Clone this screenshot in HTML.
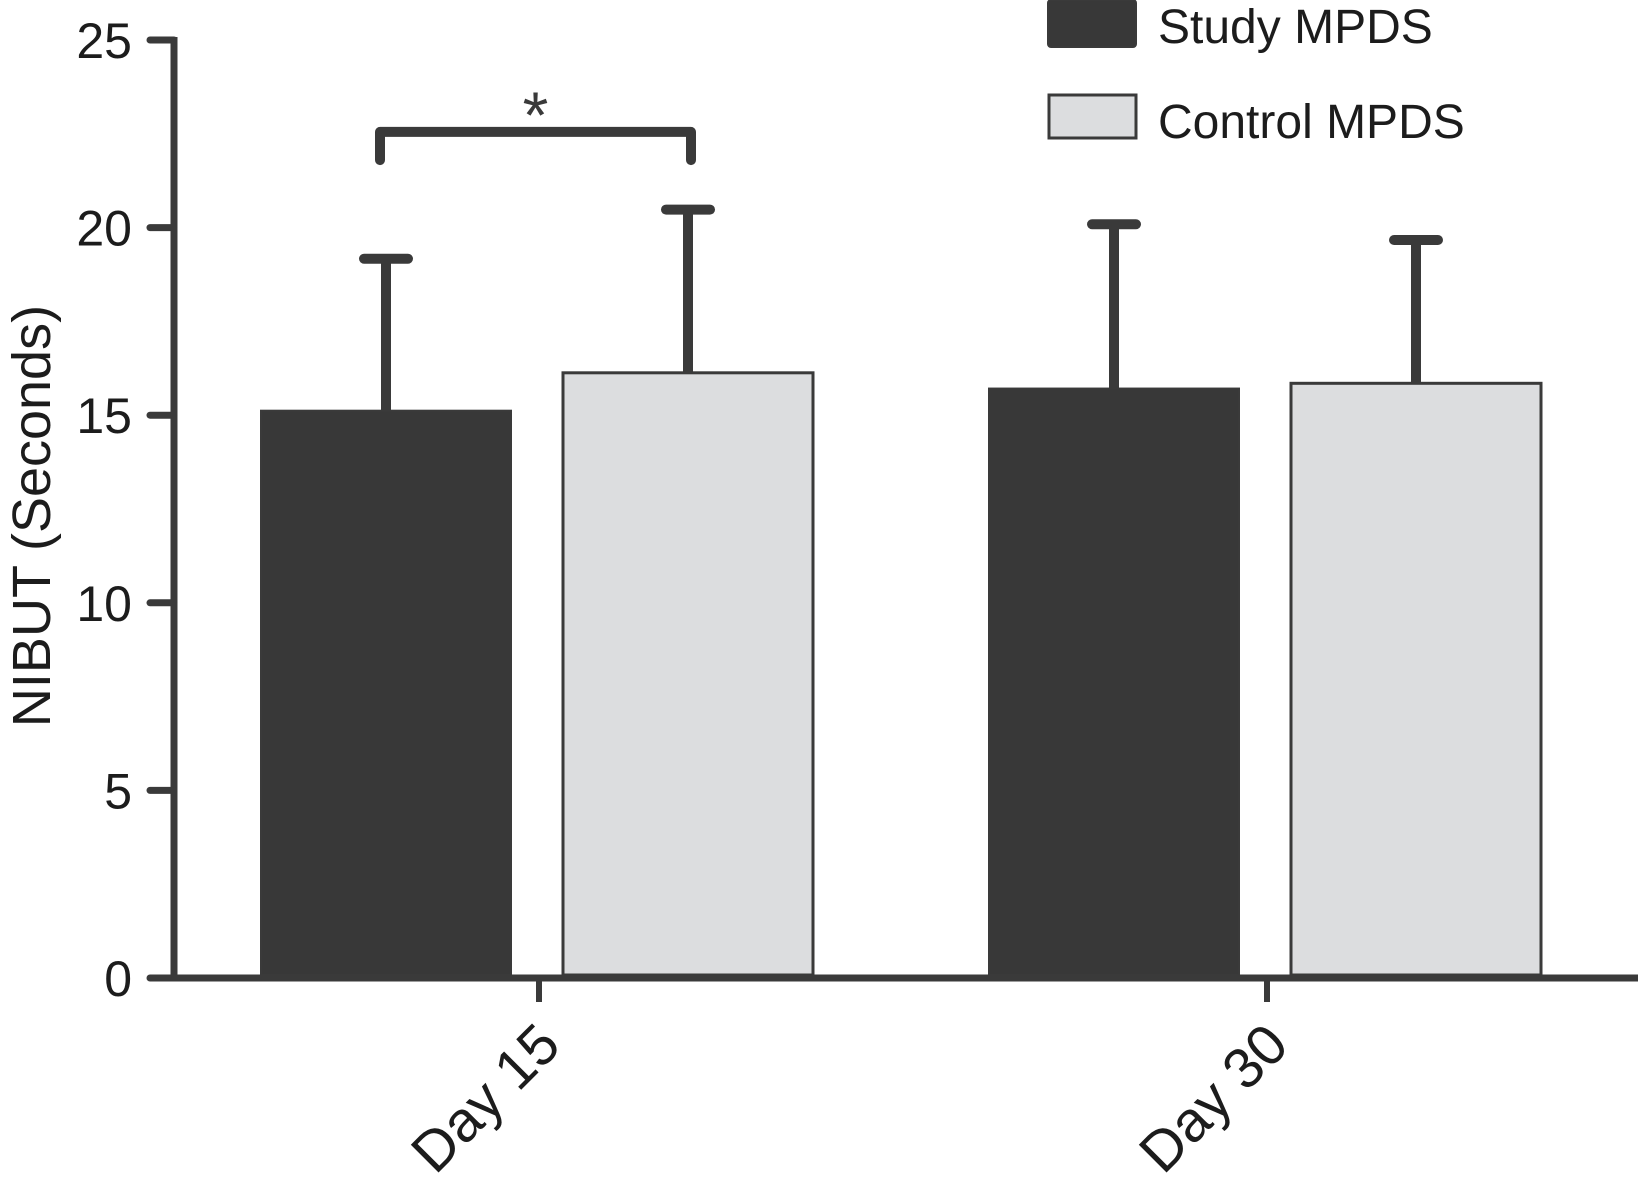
<!DOCTYPE html>
<html><head><meta charset="utf-8"><style>
html,body{margin:0;padding:0;background:#fff;}
svg{display:block;font-family:"Liberation Sans",Arial,sans-serif;}
</style></head><body>
<svg id="chart" width="1640" height="1190" viewBox="0 0 1640 1190" xmlns="http://www.w3.org/2000/svg">
<g id="axes"></g>
<g id="bars"></g>
<g id="legend">
  <rect x="1048" y="0" width="88" height="47" rx="3" fill="#383838" stroke="#3a3a3a" stroke-width="2"/>
  <text x="1158" y="43" font-size="48" fill="#1c1c1c">Study MPDS</text>
  <rect x="1049" y="95" width="87" height="43" fill="#dcdddf" stroke="#3a3a3a" stroke-width="3"/>
  <text x="1158" y="138" font-size="48" fill="#1c1c1c">Control MPDS</text>
</g>
<text transform="translate(50,516) rotate(-90)" text-anchor="middle" font-size="54" fill="#1c1c1c">NIBUT (Seconds)</text>
</svg>
<script>
const categories = ["Day 15", "Day 30"];
const studyMeans = [15.12, 15.71];
const studyErr = [19.17, 20.09];
const controlMeans = [16.13, 15.85];
const controlErr = [20.48, 19.67];
const yTicks = [0, 5, 10, 15, 20, 25];
const sigBracket = [22.55, 21.8];

const NS = "http://www.w3.org/2000/svg";
const Y0 = 978, Y25 = 40, YMAX = 25;
function y(v){ return Y0 - (Y0 - Y25) * v / YMAX; }
const catCenters = [539, 1267];
const barW = 250, gap = 52;
function barX(ci, si){ return catCenters[ci] - barW - gap/2 + si*(barW+gap) - 2; }
function el(tag, attrs, parent){ const e = document.createElementNS(NS, tag); for (const k in attrs) e.setAttribute(k, attrs[k]); parent.appendChild(e); return e; }

const axes = document.getElementById('axes');
const bars = document.getElementById('bars');
const dark = "#383838", light = "#dcdddf", stroke = "#3a3a3a";

let yl = el('line', {x1:174, y1:y(25)-3, x2:174, y2:Y0+3, stroke:stroke, 'stroke-width':7}, axes);


yTicks.forEach(t => {
  const tl = el('line', {x1:150, y1:y(t), x2:174, y2:y(t), stroke:stroke, 'stroke-width':7, 'stroke-linecap':'round'}, axes);
  
  
  const tx = el('text', {x:132, y:y(t)+18, 'text-anchor':'end', 'font-size':50, fill:'#1c1c1c'}, axes);
  tx.textContent = t;
  
  
});
let xl = el('line', {x1:150, y1:Y0, x2:1638, y2:Y0, stroke:stroke, 'stroke-width':7}, axes);


categories.forEach((c, i) => {
  const tk = el('line', {x1:catCenters[i], y1:Y0, x2:catCenters[i], y2:Y0+24, stroke:stroke, 'stroke-width':6}, axes);
  
  
  const tx = el('text', {transform:`translate(${catCenters[i]+24},${Y0+70}) rotate(-45)`, 'text-anchor':'end', 'font-size':57, fill:'#1c1c1c'}, axes);
  tx.textContent = c;
  
  
});

function drawBar(ci, si, mean, err){
  const x = barX(ci, si), cx = x + barW/2;
  const eb = el('line', {x1:cx, y1:y(mean), x2:cx, y2:y(err), stroke:stroke, 'stroke-width':10}, bars);
  
  
  const cap = el('line', {x1:cx-22, y1:y(err), x2:cx+22, y2:y(err), stroke:stroke, 'stroke-width':10, 'stroke-linecap':'round'}, bars);
  
  
  const r = el('rect', {x:x, y:y(mean), width:barW, height:Y0 - 3 - y(mean), fill: si===0?dark:light, stroke: stroke, 'stroke-width': si===0?2:3}, bars);
  
  
}
categories.forEach((c, i) => {
  drawBar(i, 0, studyMeans[i], studyErr[i]);
  drawBar(i, 1, controlMeans[i], controlErr[i]);
});

const bx1 = barX(0,0) + barW/2 - 6, bx2 = barX(0,1) + barW/2 + 3;
const br = el('path', {d:`M${bx1},${y(sigBracket[1])} L${bx1},${y(sigBracket[0])} L${bx2},${y(sigBracket[0])} L${bx2},${y(sigBracket[1])}`, fill:'none', stroke:stroke, 'stroke-width':10, 'stroke-linecap':'round', 'stroke-linejoin':'round'}, bars);


const st = el('text', {x:(bx1+bx2)/2, y:y(sigBracket[0]) + 6, 'text-anchor':'middle', 'font-size':66, fill:stroke}, bars);
st.textContent = '*';


</script>
</body></html>
